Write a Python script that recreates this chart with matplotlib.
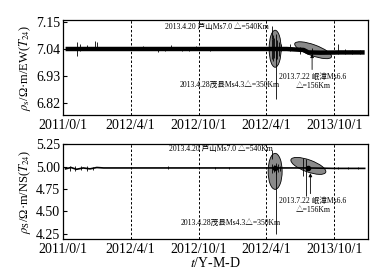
#!/usr/bin/env python3
"""Apparent resistivity (EW / NS) time series with earthquake annotations"""

import numpy as np
import matplotlib
matplotlib.use('Agg')
import matplotlib.pyplot as plt
from matplotlib.patches import Ellipse
from matplotlib.transforms import ScaledTranslation

plt.rcParams['font.family'] = ['Liberation Serif', 'Noto Sans CJK SC', 'DejaVu Sans']
plt.rcParams['mathtext.fontset'] = 'stix'

# x axis in tick units (0 = 2011/0/1, one unit per tick interval)
tick_pos = [0, 1, 2, 3, 4]
tick_labels = ['2011/0/1', '2012/4/1', '2012/10/1', '2012/4/1', '2013/10/1']
dash_pos = [1, 2, 3, 4]

# EW baseline
ew_x = [0.04, 0.6, 1.2, 1.8, 2.4, 2.9, 3.3, 3.55, 3.62, 3.8, 4.1, 4.45]
ew_y = [7.040, 7.040, 7.040, 7.040, 7.040, 7.040, 7.040, 7.036, 7.026, 7.025, 7.026, 7.026]
# EW spikes
ew_spk_x = [0.21, 0.25, 0.35, 0.47, 0.50, 1.18, 1.40, 1.50, 1.59, 1.76, 1.86, 1.96,
            2.17, 2.36, 2.49, 2.66, 3.08, 3.10, 3.12, 3.14, 3.16, 3.18, 3.22, 3.35,
            3.50, 3.68, 4.06, 4.16, 4.27, 4.38]
ew_spk_lo = [7.010, 7.030, 7.035, 7.040, 7.040, 7.040, 7.028, 7.030, 7.040, 7.032, 7.030, 7.035,
             7.030, 7.035, 7.035, 7.035, 7.000, 6.990, 7.005, 6.995, 7.000, 7.010, 7.030, 7.030,
             7.020, 7.010, 7.020, 7.020, 7.020, 7.020]
ew_spk_hi = [7.070, 7.060, 7.055, 7.072, 7.070, 7.053, 7.040, 7.050, 7.055, 7.048, 7.050, 7.052,
             7.050, 7.050, 7.048, 7.050, 7.080, 7.095, 7.085, 7.100, 7.075, 7.070, 7.060, 7.060,
             7.050, 7.045, 7.060, 7.040, 7.035, 7.036]

# NS baseline
ns_x = [0.04, 0.12, 0.2, 0.3, 0.4, 0.5, 0.6, 1.5, 2.5, 3.0, 3.6, 4.0, 4.45]
ns_y = [4.975, 4.990, 4.970, 4.985, 4.975, 4.990, 4.985, 4.985, 4.985, 4.985, 4.985, 4.980, 4.980]
# NS spikes
ns_spk_x = [0.10, 0.18, 0.27, 0.36, 0.45, 1.55, 2.25, 2.45, 3.08, 3.11, 3.14, 3.17, 3.20,
            3.54, 4.05, 4.20, 4.35]
ns_spk_lo = [4.950, 4.955, 4.960, 4.955, 4.960, 4.975, 4.975, 4.975, 4.930, 4.940, 4.920, 4.935, 4.950,
             4.900, 4.975, 4.975, 4.975]
ns_spk_hi = [5.010, 5.005, 5.010, 5.005, 5.000, 5.010, 5.000, 5.000, 5.030, 5.020, 5.040, 5.030, 5.010,
             5.100, 5.000, 5.000, 5.000]

quake1 = '2013.4.20 芦山Ms7.0 △=540Km'
quake2 = '2013.4.28茂县Ms4.3△=350Km'
quake3 = '2013.7.22 岷漳Ms6.6\n△=156Km'


def add_ellipse(fig, ax, cx, cy, w_px, h_px, angle):
    tr = fig.dpi_scale_trans + ScaledTranslation(cx, cy, ax.transData)
    e = Ellipse((0, 0), w_px / 100, h_px / 100, angle=angle, transform=tr,
                facecolor='#8a8a8a', edgecolor='black', linewidth=0.6, zorder=2)
    ax.add_patch(e)


def setup_axis(ax, yticks, ylim):
    ax.set_xlim(0, 4.5)
    ax.set_ylim(*ylim)
    ax.set_yticks(yticks)
    ax.set_xticks(tick_pos)
    ax.set_xticklabels(tick_labels, fontsize=10)
    ax.tick_params(axis='x', length=0, pad=3)
    ax.tick_params(axis='y', direction='in', length=3, labelsize=10, pad=2)
    for x in dash_pos:
        ax.axvline(x, color='black', linestyle=(0, (2.5, 2)), linewidth=0.7, zorder=1)
    for s in ax.spines.values():
        s.set_linewidth(0.9)


fig = plt.figure(figsize=(3.81, 2.74), dpi=100)
ax1 = fig.add_axes([0.165, 0.580, 0.801, 0.347])
ax2 = fig.add_axes([0.165, 0.128, 0.801, 0.347])

# ---- EW panel
setup_axis(ax1, [6.82, 6.93, 7.04, 7.15], (6.771, 7.158))
ax1.set_yticklabels(['6.82', '6.93', '7.04', '7.15'])
add_ellipse(fig, ax1, 3.13, 7.041, 12, 37, 0)
add_ellipse(fig, ax1, 3.69, 7.035, 39, 11, -20)
ax1.plot(ew_x, ew_y, color='black', linewidth=3.2, zorder=3, solid_capstyle='butt')
ax1.vlines(ew_spk_x, ew_spk_lo, ew_spk_hi, color='black', linewidth=0.6, zorder=3)
ax1.vlines(3.14, 6.835, 7.04, color='black', linewidth=0.6, zorder=3)
ax1.vlines(3.08, 7.08, 7.135, color='black', linewidth=0.6, zorder=3)
ax1.annotate('', xy=(3.675, 7.031), xytext=(3.675, 6.945),
             arrowprops=dict(arrowstyle='-|>', color='black', lw=0.6,
                             mutation_scale=5), zorder=4)
ax1.text(3.04, 7.128, quake1, fontsize=5.5, ha='right', va='center')
ax1.text(3.20, 6.892, quake2, fontsize=5.5, ha='right', va='center')
ax1.text(3.69, 6.908, quake3, fontsize=5.5, ha='center', va='center', linespacing=1.1)
ax1.set_ylabel('$\\rho_{\\rm s}$/Ω·m/EW($T_{24}$)', fontsize=9, labelpad=2)

# ---- NS panel
setup_axis(ax2, [4.25, 4.50, 4.75, 5.00, 5.25], (4.19, 5.255))
ax2.set_yticklabels(['4.25', '4.50', '4.75', '5.00', '5.25'])
add_ellipse(fig, ax2, 3.13, 4.947, 14, 36, 0)
add_ellipse(fig, ax2, 3.62, 5.008, 37, 12, -20)
ax2.plot(ns_x, ns_y, color='black', linewidth=1.2, zorder=3)
ax2.vlines(ns_spk_x, ns_spk_lo, ns_spk_hi, color='black', linewidth=0.6, zorder=3)
ax2.plot([3.13, 3.62], [4.985, 4.985], 'o', color='black', markersize=3, zorder=4)
ax2.vlines(3.14, 4.24, 4.95, color='black', linewidth=0.6, zorder=3)
ax2.vlines(3.085, 5.08, 5.19, color='black', linewidth=0.6, zorder=3)
ax2.vlines(3.59, 4.666, 5.08, color='black', linewidth=0.6, zorder=3)
ax2.annotate('', xy=(3.65, 4.958), xytext=(3.65, 4.666),
             arrowprops=dict(arrowstyle='-|>', color='black', lw=0.6,
                             mutation_scale=5), zorder=4)
ax2.text(3.10, 5.194, quake1, fontsize=5.5, ha='right', va='center')
ax2.text(3.22, 4.374, quake2, fontsize=5.5, ha='right', va='center')
ax2.text(3.69, 4.565, quake3, fontsize=5.5, ha='center', va='center', linespacing=1.1)
ax2.set_ylabel('$\\rho_{\\rm S}$/Ω·m/NS($T_{24}$)', fontsize=9, labelpad=2)
ax2.set_xlabel('$\\it{t}$/Y-M-D', fontsize=10, labelpad=0)

fig.savefig('out.png', dpi=100)
